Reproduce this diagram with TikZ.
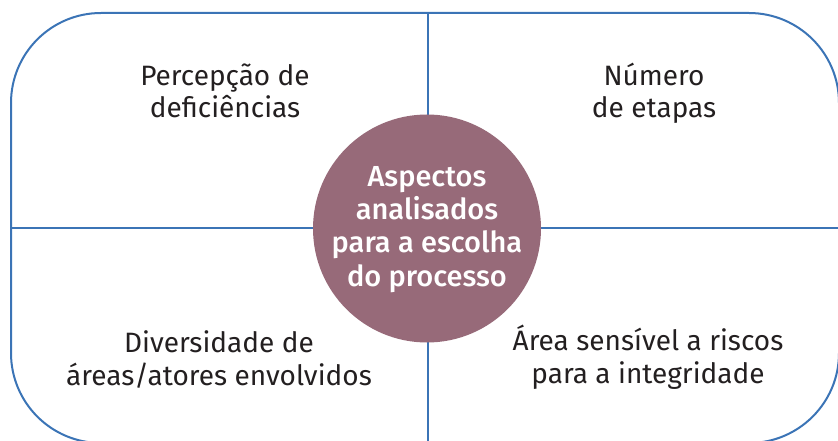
\documentclass[tikz,border=0pt]{standalone}
\usepackage{fontspec}
\setmainfont{Fira Sans}
\newfontfamily\centerfont{Fira Sans Medium}
\definecolor{frameblue}{HTML}{3B74B6}
\definecolor{mauve}{HTML}{976A79}
\definecolor{txt}{HTML}{231F20}
\begin{document}
\begin{tikzpicture}[x=1pt,y=-1pt,
  lbl/.style={align=center,anchor=base,text=txt,inner sep=0pt,font=\fontsize{28}{32.5}\selectfont},
  hub/.style={circle,fill=mauve,minimum size=228pt,inner sep=0pt},
  hubtxt/.style={align=center,anchor=base,text=white,inner sep=0pt,font=\centerfont\fontsize{29}{33.3}\selectfont},
  framestyle/.style={draw=frameblue,line width=2pt,rounded corners=90pt},
  crossline/.style={draw=frameblue,line width=1.6pt}]
\useasboundingbox (0,0) rectangle (838,441);
\clip (0,0) rectangle (838,441);
\draw[framestyle] (11,13) rectangle (839,443);
\coordinate (vtop) at (428,13);
\coordinate (vbot) at (428,443);
\coordinate (hleft) at (11,228);
\coordinate (hright) at (839,228);
\draw[crossline] (vtop) -- (vbot);
\draw[crossline] (hleft) -- (hright);
\node[hub] (hubc) at (427,228.5) {};
\node[hubtxt] (hubt) at (427,286) {Aspectos\\analisados\\para a escolha\\do processo};
\node[lbl] (tl) at (225,118) {Percepção de\\deficiências};
\node[lbl] (tr) at (654,118) {Número\\de etapas};
\node[lbl] (bl) at (219,385) {Diversidade de\\áreas/atores envolvidos};
\node[lbl] (br) at (648,383) {Área sensível a riscos\\para a integridade};
\end{tikzpicture}
\end{document}
